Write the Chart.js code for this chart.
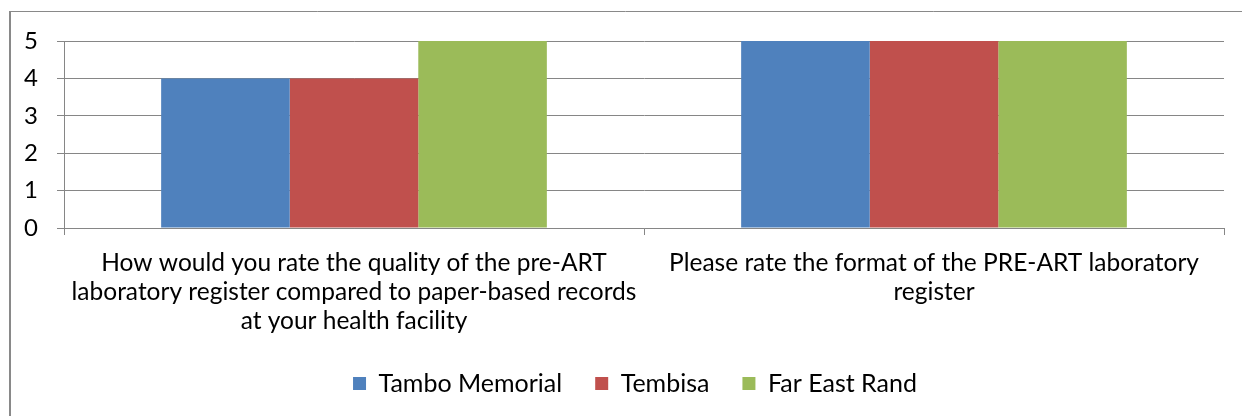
<!DOCTYPE html>
<html>
<head>
<meta charset="utf-8">
<script src="https://cdn.jsdelivr.net/npm/chart.js@4.4.0/dist/chart.umd.min.js"></script>
<style>
html,body{margin:0;padding:0;background:#fff;}
#wrap{position:relative;width:1242px;height:416px;}
</style>
</head>
<body>
<div id="wrap"><canvas id="c"></canvas></div>
<script>
const categories = [
  ["How would you rate the quality of the pre-ART", "laboratory register compared to paper-based records", "at your health facility"],
  ["Please rate the format of the PRE-ART laboratory", "register"]
];
const seriesNames = ["Tambo Memorial", "Tembisa", "Far East Rand"];
const tamboMemorial = [4, 5];
const tembisa = [4, 5];
const farEastRand = [5, 5];
const yTicks = [0, 1, 2, 3, 4, 5];

const colors = ["#4F81BD", "#C0504D", "#9BBB59"];
const FONT = "Lato";

const borderPlugin = {
  id: 'outerBorder',
  afterLayout(chart) {
    // centre the legend under the plot area, as in the reference
    const lg = chart.legend;
    if (lg) { lg.left = chart.chartArea.left - (chart.width - chart.chartArea.right) + 0; }
  },
  beforeDraw(chart) {
    const ctx = chart.ctx;
    ctx.save();
    ctx.strokeStyle = '#898989';
    ctx.lineWidth = 1;
    ctx.beginPath();
    ctx.moveTo(9, 11.5);
    ctx.lineTo(1242, 11.5);
    ctx.stroke();
    ctx.lineWidth = 2;
    ctx.beginPath();
    ctx.moveTo(10, 11);
    ctx.lineTo(10, 416);
    ctx.stroke();
    ctx.restore();
  }
};

new Chart(document.getElementById('c'), {
  type: 'bar',
  data: {
    labels: categories,
    datasets: [
      { label: seriesNames[0], data: tamboMemorial, backgroundColor: colors[0] },
      { label: seriesNames[1], data: tembisa, backgroundColor: colors[1] },
      { label: seriesNames[2], data: farEastRand, backgroundColor: colors[2] }
    ]
  },
  options: {
    responsive: true,
    maintainAspectRatio: false,
    animation: false,
    devicePixelRatio: 1,
    datasets: { bar: { categoryPercentage: 0.665, barPercentage: 1.0, borderWidth: 0 } },
    layout: { padding: { top: 41, right: 18, left: 0, bottom: 10 } },
    plugins: {
      tooltip: { enabled: false },
      legend: {
        position: 'bottom',
        labels: {
          boxWidth: 13, boxHeight: 13, padding: 33, color: '#000',
          font: { family: FONT, size: 25 }
        }
      }
    },
    scales: {
      x: {
        grid: { offset: true, drawOnChartArea: false, drawTicks: true, tickLength: 7, color: '#868686' },
        border: { color: '#868686' },
        ticks: { color: '#000', padding: 13, maxRotation: 0, autoSkip: false,
                 font: { family: FONT, size: 24.5, lineHeight: 1.2 } },
        afterFit(scale) { scale.height = 110; }
      },
      y: {
        min: 0, max: 5,
        afterBuildTicks(scale) { scale.ticks = yTicks.map(v => ({ value: v })); },
        grid: { color: '#868686', tickLength: 7 },
        border: { color: '#868686' },
        ticks: { color: '#000', padding: 19, font: { family: FONT, size: 24 } },
        afterFit(scale) { scale.width = 64; }
      }
    }
  },
  plugins: [borderPlugin]
});
</script>
</body>
</html>
